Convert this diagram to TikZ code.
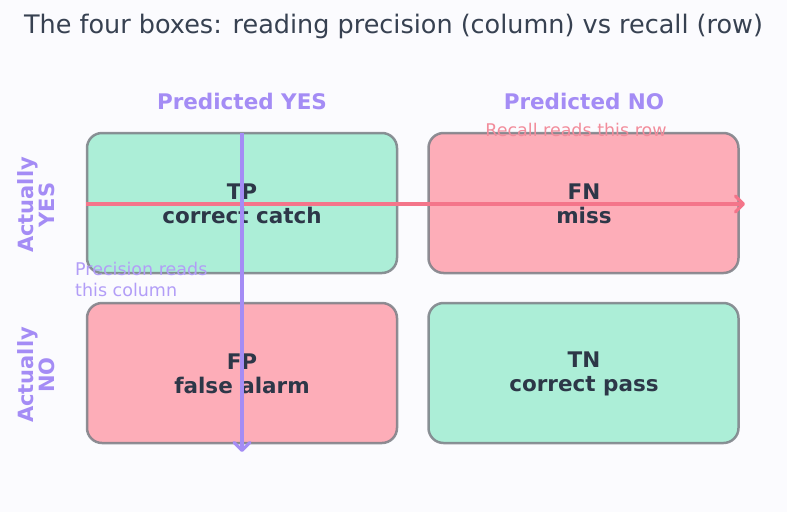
\documentclass[tikz,border=0pt]{standalone}
\usepackage{fontspec}
\setmainfont{DejaVu Sans}
\usetikzlibrary{arrows.meta}
\definecolor{bgc}{HTML}{FBFBFE}
\definecolor{titlec}{HTML}{374151}
\definecolor{inkc}{HTML}{2D3748}
\definecolor{mintc}{HTML}{ACEED7}
\definecolor{pinkc}{HTML}{FDADB8}
\definecolor{edgec}{HTML}{7B7F86}
\definecolor{violetc}{HTML}{A48CF5}
\definecolor{rosec}{HTML}{F4758A}
\definecolor{rosetext}{HTML}{F28C9B}
\tikzset{
  cell/.style={draw=edgec, draw opacity=0.85, line width=2.5pt, rounded corners=15pt,
    minimum width=310pt, minimum height=140pt, inner sep=0pt},
  celltext/.style={font=\bfseries\fontsize{21.5}{23.5}\selectfont, text=inkc, align=center},
  colhead/.style={font=\bfseries\fontsize{21.5}{24}\selectfont, text=violetc},
  rowhead/.style={font=\bfseries\fontsize{21}{21.5}\selectfont, text=violetc, align=center, rotate=90},
  readline/.style={line width=3.5pt, -{Straight Barb[length=8pt,width=16pt,line width=3.2pt,round]}}
}
\begin{document}
\begin{tikzpicture}[x=1pt,y=-1pt]
  \fill[bgc] (0,0) rectangle (787,512);
  \useasboundingbox (0,0) rectangle (787,512);

  \node[font=\fontsize{25.5}{28}\selectfont, text=titlec] (title) at (393.5,26) {The four boxes: reading precision (column) vs recall (row)};

  \node[colhead] (predyes) at (242,101) {Predicted YES};
  \node[colhead] (predno) at (584,101) {Predicted NO};
  \node[rowhead] (actyes) at (36,205) {Actually\\YES};
  \node[rowhead] (actno) at (36,375) {Actually\\NO};

  % the four cells of the matrix
  \node[cell, fill=mintc] (tp) at (242,203) {};
  \node[cell, fill=pinkc] (fn) at (583.5,203) {};
  \node[cell, fill=pinkc] (fp) at (242,373) {};
  \node[cell, fill=mintc] (tn) at (583.5,373) {};

  \node[celltext] (tptext) at (242,204) {TP\\correct catch};
  \node[celltext] (fntext) at (584,204) {FN\\miss};
  \node[celltext] (fptext) at (242,374) {FP\\false alarm};
  \node[celltext] (tntext) at (584,374) {TN\\correct pass};

  % reading directions
  \coordinate (rowstart) at (tp.west |- 0,204);
  \coordinate (rowend) at (745,204);
  \coordinate (colstart) at (242,133);
  \coordinate (colend) at (242,452);
  \draw[readline, rosec] (rowstart) -- (rowend);
  \draw[readline, violetc] (colstart) -- (colend);

  \node[font=\fontsize{17.5}{20}\selectfont, text=rosetext] (recall) at (576,130) {Recall reads this row};
  \node[font=\fontsize{17.5}{21}\selectfont, text=violetc!85, align=left, anchor=west, inner sep=0pt] (precision) at (75,279) {Precision reads\\this column};
\end{tikzpicture}
\end{document}
